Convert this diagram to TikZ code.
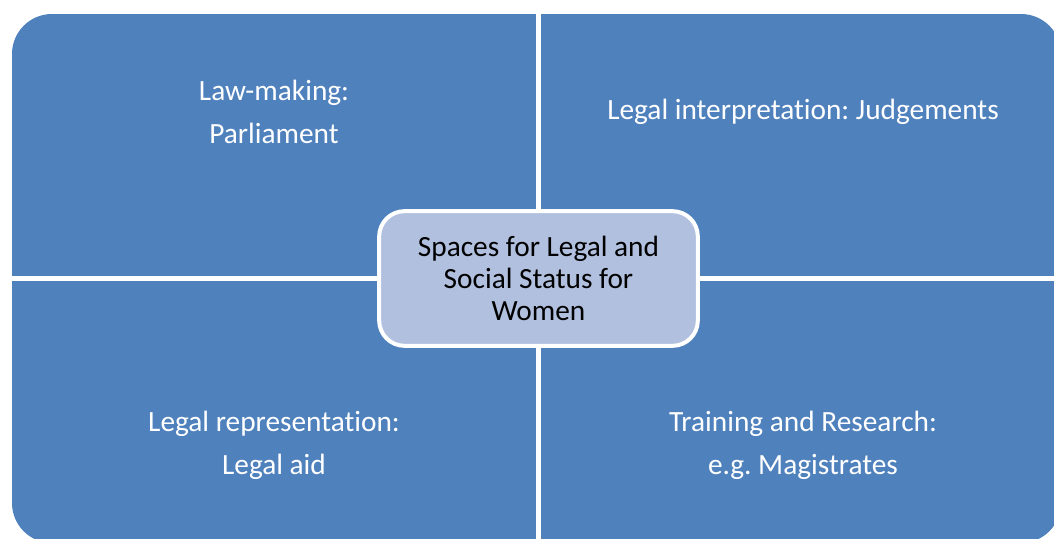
\documentclass[tikz,border=0pt]{standalone}
\usepackage{fontspec}
\setmainfont{Carlito}[Ligatures={NoCommon,NoDiscretionary,NoContextual}]
\frenchspacing
\definecolor{quadblue}{HTML}{4F81BD}
\definecolor{hubblue}{HTML}{B1C0DE}
\begin{document}
\begin{tikzpicture}[x=0.75pt,y=-0.75pt,
  quadfill/.style={fill=quadblue},
  quadtext/.style={text=white, align=center, inner sep=0pt,
    font=\fontsize{22}{32}\selectfont},
  hubbox/.style={draw=white, line width=3pt, fill=hubblue, rounded corners=19pt,
    minimum width=239pt, minimum height=101pt, align=center, inner sep=0pt,
    font=\fontsize{22}{24}\selectfont}]
\useasboundingbox (0,0) rectangle (1054,539);
\begin{scope}
  \clip[rounded corners=30pt] (12,14) rectangle (1061,543);
  \path[quadfill] (12,14) rectangle (536,276);
  \path[quadfill] (541,14) rectangle (1061,276);
  \path[quadfill] (12,281) rectangle (536,543);
  \path[quadfill] (541,281) rectangle (1061,543);
\end{scope}
\node[quadtext] (lawmaking) at (274,112) {Law-making:\\Parliament};
\node[quadtext] (interpretation) at (803,112) {Legal interpretation: Judgements};
\node[quadtext] (representation) at (274,445) {Legal representation:\\Legal aid};
\node[quadtext] (training) at (803,445) {Training and Research:\\e.g. Magistrates};
\node[hubbox] (hub) at (538.5,278.5) {Spaces for Legal and\\Social Status for\\Women};
\end{tikzpicture}
\end{document}
